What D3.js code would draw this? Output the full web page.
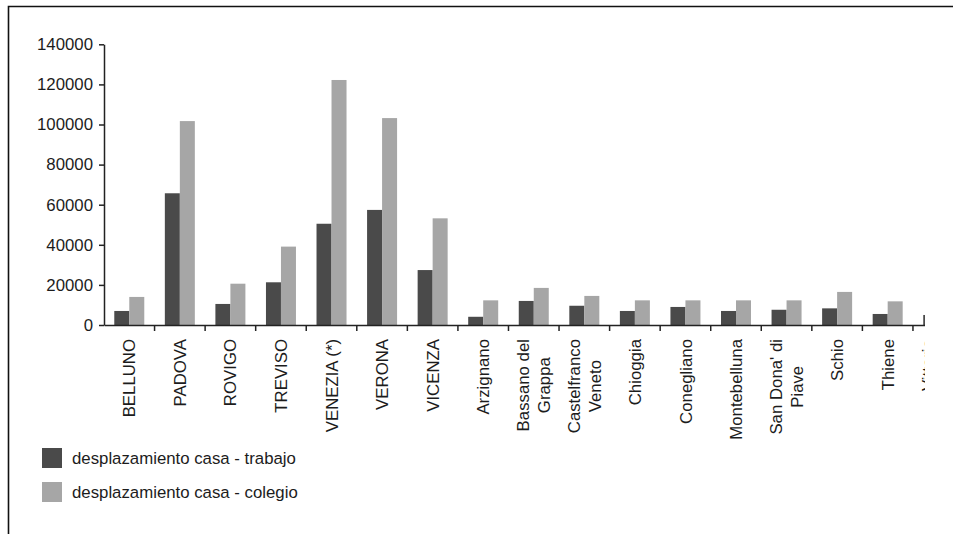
<!DOCTYPE html>
<html>
<head>
<meta charset="utf-8">
<script src="https://cdn.jsdelivr.net/npm/d3@7"></script>
<style>
  body { margin: 0; background: #fff; }
  svg { display: block; font-family: "Liberation Sans", Arial, sans-serif; }
</style>
</head>
<body>
<svg id="chart" width="953" height="534"></svg>
<script>
// Categories (\n = line break in the rotated label)
var cities = ["BELLUNO", "PADOVA", "ROVIGO", "TREVISO", "VENEZIA (*)", "VERONA", "VICENZA",
    "Arzignano", "Bassano del\nGrappa", "Castelfranco\nVeneto", "Chioggia", "Conegliano",
    "Montebelluna", "San Dona' di\nPiave", "Schio", "Thiene", "Vittorio\nVeneto"];

var trabajo = [7000, 65700, 10500, 21300, 50500, 57400, 27400,
    4100, 12000, 9600, 7000, 9000, 7000, 7600, 8300, 5500, 5000];
var colegio = [14000, 101700, 20600, 39100, 122200, 103200, 53200,
    12300, 18500, 14500, 12300, 12300, 12300, 12300, 16500, 11800, 12000];

var seriesNames = ["desplazamiento casa - trabajo", "desplazamiento casa - colegio"];
var seriesColors = ["#4a4a4a", "#a6a6a6"];
var yTicks = [0, 20000, 40000, 60000, 80000, 100000, 120000, 140000];

var fontSize = 16.8;
var textColor = "#1c1c1c";

var svg = d3.select("#chart");

// outer frame, only top and left edges show
svg.append("path")
    .attr("d", "M8.5,534 V6.5 H953")
    .attr("fill", "none")
    .attr("stroke", "#111")
    .attr("stroke-width", 1.6);

// plot is cut off on the right side
svg.append("clipPath").attr("id", "cut")
    .append("rect").attr("x", 0).attr("y", 0).attr("width", 925).attr("height", 534);

var g = svg.append("g").attr("clip-path", "url(#cut)");

var step = 50.56;
var x = d3.scaleBand()
    .domain(cities)
    .range([104, 104 + step * cities.length])
    .padding(0);

var x1 = d3.scaleBand()
    .domain([0, 1])
    .range([(step - 30) / 2, (step + 30) / 2]);

var y = d3.scaleLinear()
    .domain([0, 140000])
    .range([325, 44.3]);

// bars
var groups = g.selectAll("g.city")
    .data(cities)
    .enter()
    .append("g")
    .attr("class", "city")
    .attr("transform", function (d) { return "translate(" + x(d) + ",0)"; });

groups.selectAll("rect")
    .data(function (d, i) { return [trabajo[i], colegio[i]]; })
    .enter()
    .append("rect")
    .attr("x", function (d, j) { return x1(j); })
    .attr("width", x1.bandwidth())
    .attr("y", function (d) { return y(d); })
    .attr("height", function (d) { return y(0) - y(d); })
    .attr("fill", function (d, j) { return seriesColors[j]; });

// y axis
var yAxis = svg.append("g")
    .attr("transform", "translate(104,0)")
    .call(d3.axisLeft(y).tickValues(yTicks).tickSize(5).tickSizeOuter(0).tickPadding(6).tickFormat(d3.format("d")));
yAxis.selectAll("text").attr("font-size", fontSize).attr("fill", textColor).attr("font-family", "Liberation Sans, Arial, sans-serif");
yAxis.selectAll("line, path").attr("stroke", "#222").attr("stroke-width", 1.5);

// x axis line, ticks on category boundaries
var xAxis = g.append("g")
    .attr("transform", "translate(0,325)")
    .call(d3.axisBottom(x).tickSize(0).tickFormat(""));
xAxis.select("path").attr("stroke", "#222").attr("stroke-width", 1.5);

g.selectAll("line.btick")
    .data(cities)
    .enter()
    .append("line")
    .attr("class", "btick")
    .attr("x1", function (d) { return x(d) + x.bandwidth(); })
    .attr("x2", function (d) { return x(d) + x.bandwidth(); })
    .attr("y1", 325)
    .attr("y2", 331)
    .attr("stroke", "#222")
    .attr("stroke-width", 1.5);

// rotated category labels
var lineGap = 21;
cities.forEach(function (c) {
    var lines = c.split("\n");
    var cx = x(c) + x.bandwidth() / 2;
    var lab = g.append("g")
        .attr("transform", "translate(" + cx + ",339) rotate(-90)");
    var texts = lab.selectAll("text")
        .data(lines)
        .enter()
        .append("text")
        .attr("y", function (d, i) { return (i - (lines.length - 1) / 2) * lineGap; })
        .attr("dy", "0.36em")
        .attr("font-size", fontSize)
        .attr("fill", textColor)
        .text(function (d) { return d; });
    var maxW = 0;
    texts.each(function () { maxW = Math.max(maxW, this.getComputedTextLength()); });
    texts.attr("text-anchor", "middle").attr("x", -maxW / 2);
});

// legend
var legend = svg.selectAll("g.legend")
    .data(seriesNames)
    .enter()
    .append("g")
    .attr("class", "legend")
    .attr("transform", function (d, i) { return "translate(42," + (448 + i * 34) + ")"; });

legend.append("rect")
    .attr("width", 20)
    .attr("height", 20)
    .attr("fill", function (d, i) { return seriesColors[i]; });

legend.append("text")
    .attr("x", 30)
    .attr("y", 10)
    .attr("dy", "0.36em")
    .attr("font-size", fontSize)
    .attr("fill", textColor)
    .text(function (d) { return d; });
</script>
</body>
</html>
